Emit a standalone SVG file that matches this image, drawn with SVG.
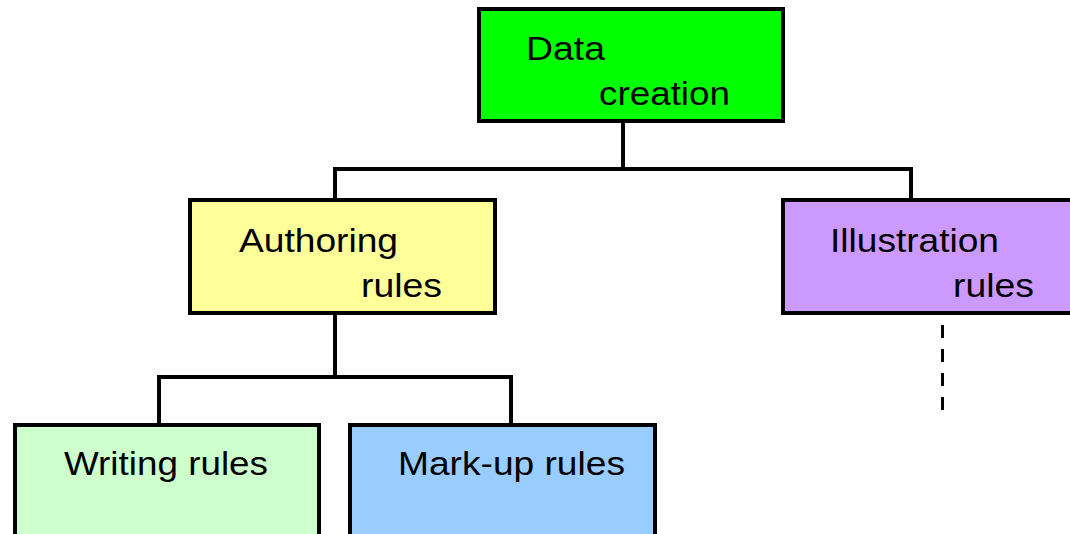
<svg xmlns="http://www.w3.org/2000/svg" width="1070" height="534" viewBox="0 0 1070 534">
  <style>
    .box { stroke: #000; stroke-width: 4; }
    .lbl { font-family: "Liberation Sans", Arial, sans-serif; font-size: 34px; fill: #000; }
    .wire { fill: none; stroke: #000; stroke-width: 4; stroke-linecap: square; }
    .dash { fill: none; stroke: #000; stroke-width: 3; stroke-dasharray: 13 11; }
  </style>
  <rect width="1070" height="534" fill="#fff"/>

  <!-- tree connectors -->
  <g id="connectors">
    <path class="wire" d="M623 123 V169 M335 169 H911 M335 169 V198 M911 169 V198"/>
    <path class="wire" d="M335 315 V377 M159 377 H511 M159 377 V423 M511 377 V423"/>
    <path class="dash" d="M942.5 325 V410"/>
  </g>

  <g id="data-creation">
    <rect class="box" x="479" y="9" width="304" height="112" fill="#00ff00"/>
    <text class="lbl" x="526" y="60" textLength="79" lengthAdjust="spacingAndGlyphs">Data</text>
    <text class="lbl" x="599" y="105" textLength="131" lengthAdjust="spacingAndGlyphs">creation</text>
  </g>

  <g id="authoring-rules">
    <rect class="box" x="190" y="200" width="305" height="113" fill="#ffff99"/>
    <text class="lbl" x="239" y="252" textLength="159" lengthAdjust="spacingAndGlyphs">Authoring</text>
    <text class="lbl" x="361" y="297" textLength="81" lengthAdjust="spacingAndGlyphs">rules</text>
  </g>

  <g id="illustration-rules">
    <rect class="box" x="783" y="200" width="300" height="113" fill="#cc99ff"/>
    <text class="lbl" x="830" y="252" textLength="169" lengthAdjust="spacingAndGlyphs">Illustration</text>
    <text class="lbl" x="953" y="297" textLength="81" lengthAdjust="spacingAndGlyphs">rules</text>
  </g>

  <g id="writing-rules">
    <rect class="box" x="15" y="425" width="304" height="150" fill="#ccffcc"/>
    <text class="lbl" x="64" y="475" textLength="204" lengthAdjust="spacingAndGlyphs">Writing rules</text>
  </g>

  <g id="markup-rules">
    <rect class="box" x="350" y="425" width="305" height="150" fill="#99ccff"/>
    <text class="lbl" x="398" y="475" textLength="227" lengthAdjust="spacingAndGlyphs">Mark-up rules</text>
  </g>
</svg>
